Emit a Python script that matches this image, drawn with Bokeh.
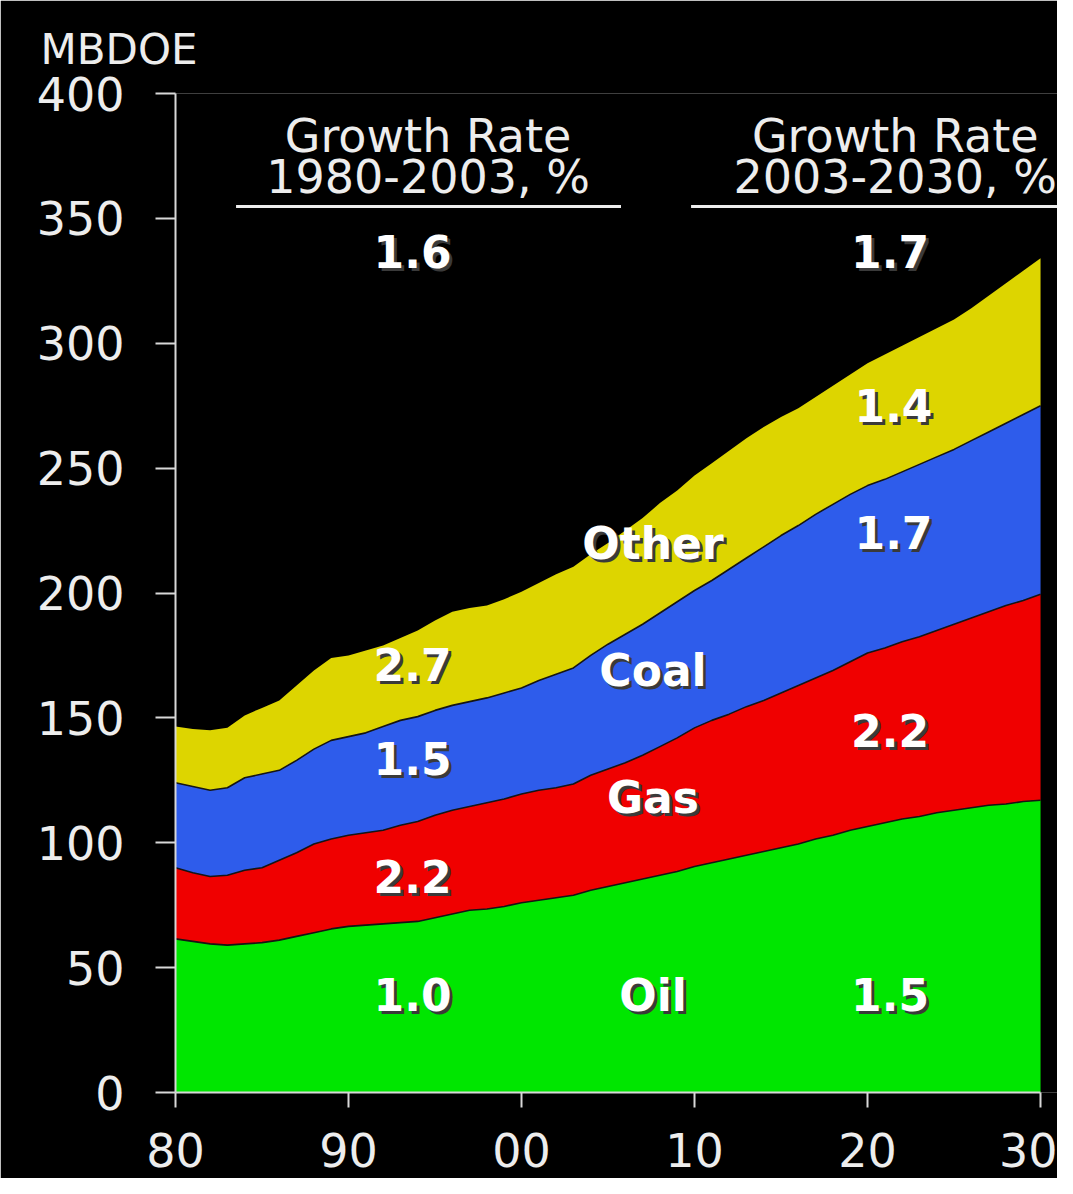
from bokeh.plotting import figure
from bokeh.models import FixedTicker, ColumnDataSource
from bokeh.core.properties import value
from bokeh.embed import file_html
from bokeh.resources import INLINE

# ---------------- data (MBDOE) ----------------
years = list(range(1980, 2031))
oil = [61.5, 60.5, 59.5, 59, 59.5, 60, 61, 62.5, 64, 65.5,
       66.5, 67, 67.5, 68, 68.5, 70, 71.5, 73, 73.5, 74.5,
       76, 77, 78, 79, 81, 82.5, 84, 85.5, 87, 88.5,
       90.5, 92, 93.5, 95, 96.5, 98, 99.5, 101.5, 103, 105,
       106.5, 108, 109.5, 110.5, 112, 113, 114, 115, 115.5, 116.5,
       117]
gas = [28.5, 27.5, 27, 28, 29.5, 30, 32, 33.5, 35.5, 36,
       36.5, 37, 37.5, 39, 40, 41, 41.5, 41.5, 42.5, 43,
       43.5, 44, 44, 44.5, 46, 47, 48, 49.5, 51.5, 53.5,
       55.5, 57, 58, 59.5, 60.5, 62, 63.5, 64.5, 66, 67.5,
       69.5, 70, 71, 72, 73, 74.5, 76, 77.5, 79.5, 80.5,
       82.5]
coal = [34, 34.5, 34.5, 35, 37, 37.5, 36, 37, 38, 39.5,
        39.5, 40, 41.5, 42, 42, 42, 42, 42, 42, 42.5,
        42.5, 44, 45.5, 46.5, 48, 50, 51.5, 52.5, 53.5, 54.5,
        55, 56, 58, 59.5, 61.5, 63, 64, 65.5, 66.5, 67,
        67, 67.5, 68, 69, 69.5, 70, 71, 72, 73, 74.5,
        75.5]
other = [22.5, 23, 24, 24, 25, 26.5, 28, 30, 31.5, 33,
         32.5, 33, 32.5, 33, 34.5, 36, 37.5, 37.5, 37, 37.5,
         38.5, 39, 40, 40.5, 40.5, 40.5, 41.5, 42.5, 44, 44.5,
         46, 47, 47.5, 48, 48, 47.5, 47, 47, 47.5, 48,
         49, 50, 50.5, 51, 51.5, 52, 53, 54.5, 56, 57.5,
         59]

fuels = ["Oil", "Gas", "Coal", "Other"]
fuel_colors = ["#00E600", "#F00000", "#2E5CEB", "#DDD500"]

x_ticks = [1980, 1990, 2000, 2010, 2020, 2030]
x_tick_labels = ["80", "90", "00", "10", "20", "30"]
y_ticks = [0, 50, 100, 150, 200, 250, 300, 350, 400]

# growth-rate annotations
rate_text = ["1.6", "1.7",
             "2.7", "1.5", "2.2", "1.0",
             "1.4", "1.7", "2.2", "1.5",
             "Other", "Coal", "Gas", "Oil"]
rate_x = [1993.7, 2021.3,
          1993.7, 1993.7, 1993.7, 1993.7,
          2021.5, 2021.5, 2021.3, 2021.3,
          2007.6, 2007.6, 2007.6, 2007.6]
rate_y = [336.7, 336.7,
          171.4, 133.7, 86.5, 39.2,
          275, 224.2, 145, 39.2,
          219.8, 169, 118, 38.8]

hdr_text = ["Growth Rate", "1980-2003, %", "Growth Rate", "2003-2030, %"]
hdr_x = [1994.6, 1994.6, 2021.6, 2021.6]
hdr_y = [382.8, 366.4, 382.8, 366.4]

# ---------------- figure ----------------
src = ColumnDataSource(dict(year=years, Oil=oil, Gas=gas, Coal=coal, Other=other))

label_color = "#EDEDED"
axis_color = "#D8D8D8"

p = figure(width=1057, height=1178,
           x_range=(1980, 2030.98), y_range=(0, 400),
           output_backend="svg", toolbar_location=None,
           background_fill_color="black", border_fill_color="black",
           outline_line_color=None,
           min_border_left=175, min_border_right=0,
           min_border_top=93, min_border_bottom=86)
p.grid.visible = False

# unit label as title
p.title.text = "MBDOE"
p.title.text_color = label_color
p.title.text_font = "DejaVu Sans"
p.title.text_font_style = "normal"
p.title.text_font_size = "42px"
p.title.text_line_height = 0.5
p.title.align = "left"
p.title.vertical_align = "top"
p.title.offset = -135
p.title.standoff = 36

p.varea_stack(fuels, x="year", color=fuel_colors, source=src)
p.vline_stack(["Oil", "Gas", "Coal"], x="year", color="#151515",
              line_width=1.6, source=src)

# axes
for ax in (p.xaxis[0], p.yaxis[0]):
    ax.axis_line_color = axis_color
    ax.axis_line_width = 2
    ax.major_tick_line_color = axis_color
    ax.major_tick_line_width = 2
    ax.major_tick_in = 0
    ax.minor_tick_line_color = None
    ax.major_label_text_color = label_color
    ax.major_label_text_font = "DejaVu Sans"
    ax.major_label_text_font_size = "46px"

p.xaxis.ticker = FixedTicker(ticks=x_ticks)
p.xaxis.major_label_overrides = {t: s for t, s in zip(x_ticks, x_tick_labels)}
p.xaxis.bounds = (1980, 2030)
p.xaxis.major_tick_out = 15
p.xaxis.major_label_standoff = 25

p.yaxis.ticker = FixedTicker(ticks=y_ticks)
p.yaxis.bounds = (0, 400)
p.yaxis.major_tick_out = 20
p.yaxis.major_label_standoff = 31

# headers
p.text(x=hdr_x, y=hdr_y, text=hdr_text, text_color=label_color,
       text_font=value("DejaVu Sans"), text_font_size="46px",
       text_align="center", text_baseline="middle")
p.segment(x0=[1983.5, 2009.8], y0=[354.8, 354.8],
          x1=[2005.75, 2030.98], y1=[354.8, 354.8],
          line_color=label_color, line_width=3)

# growth numbers / fuel names with a drop shadow
p.text(x=rate_x, y=rate_y, text=rate_text, text_color="#3a3a3a",
       text_font=value("DejaVu Sans"), text_font_style="bold",
       text_font_size="44px", text_align="center", text_baseline="middle",
       x_offset=3, y_offset=3)
p.text(x=rate_x, y=rate_y, text=rate_text, text_color="#FFFFFF",
       text_font=value("DejaVu Sans"), text_font_style="bold",
       text_font_size="44px", text_align="center", text_baseline="middle")

open("out.html", "w").write(file_html(p, INLINE))
